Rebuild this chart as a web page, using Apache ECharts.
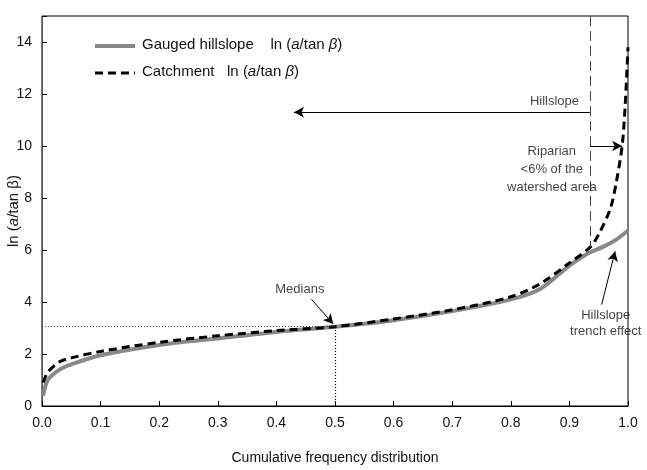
<!doctype html>
<html>
<head>
<meta charset="utf-8">
<title>ln(a/tan b)</title>
<script src="https://cdn.jsdelivr.net/npm/echarts@6/dist/echarts.min.js"></script>
<style>html,body{margin:0;padding:0;background:#fff}</style>
</head>
<body>
<div id="main" style="width:647px;height:470px"></div>
<script>
// cumulative frequency vs ln(a/tan b)
var gaugedX = [0.002, 0.01, 0.03, 0.05, 0.1, 0.2, 0.3, 0.4, 0.5, 0.6, 0.7, 0.8, 0.85, 0.9, 0.93, 0.96, 0.98, 1.0];
var gaugedY = [0.4, 1.0, 1.4, 1.6, 1.95, 2.35, 2.6, 2.85, 3.05, 3.3, 3.65, 4.1, 4.5, 5.4, 5.85, 6.15, 6.4, 6.75];
var catchX = [0.002, 0.01, 0.03, 0.05, 0.1, 0.2, 0.3, 0.4, 0.5, 0.6, 0.7, 0.8, 0.85, 0.9, 0.935, 0.95, 0.97, 0.98, 0.99, 0.995, 1.0];
var catchY = [0.9, 1.3, 1.7, 1.85, 2.1, 2.45, 2.7, 2.9, 3.05, 3.35, 3.7, 4.2, 4.7, 5.5, 6.1, 6.6, 7.6, 8.6, 10.0, 11.5, 13.8];
var medianX = 0.5, medianY = 3.05, riparianX = 0.935;

function pairs(xs, ys) { return xs.map(function (x, i) { return [x, ys[i]]; }); }
var font = 'Arial, "Liberation Sans", sans-serif';
var rich = { i: { fontStyle: 'italic', fontSize: 15, fontFamily: font, color: '#111' } };

var chart = echarts.init(document.getElementById('main'));
function seg(a, b, style, sym) {
  return [{ coord: a, symbol: sym ? sym[0] : 'none', lineStyle: style }, { coord: b, symbol: sym ? sym[1] : 'none' }];
}
var thin = { color: '#000', width: 1, type: 'solid' };
chart.setOption({
  animation: false,
  textStyle: { fontFamily: font },
  grid: { left: 42, right: 19, top: 16, bottom: 64, containLabel: false, outerBoundsMode: 'none' },
  xAxis: {
    type: 'value', min: 0, max: 1, interval: 0.1,
    name: 'Cumulative frequency distribution', nameLocation: 'middle', nameGap: 45,
    nameTextStyle: { fontSize: 14, color: '#111' },
    axisLine: { show: true, lineStyle: { color: '#000' } },
    axisTick: { inside: true, length: 5, lineStyle: { color: '#000' } },
    axisLabel: { fontSize: 14, color: '#111', margin: 10, formatter: function (v) { return v.toFixed(1); } },
    splitLine: { show: false }
  },
  yAxis: {
    type: 'value', min: 0, max: 15, interval: 2,
    name: '',
    axisLine: { show: true, lineStyle: { color: '#555' } },
    axisTick: { inside: true, length: 5, lineStyle: { color: '#000' } },
    axisLabel: { fontSize: 14, color: '#111', margin: 10, formatter: function (v) { return v <= 14 ? v : ''; } },
    splitLine: { show: false }
  },
  graphic: [
    { type: 'rect', shape: { x: 42, y: 16, width: 586, height: 390 }, style: { fill: 'none', stroke: '#000', lineWidth: 1 }, silent: true },
    { type: 'text', x: 14, y: 211, rotation: Math.PI / 2, style: { rich: rich, text: 'ln ({i|a}/tan β)', fontSize: 15, fontFamily: font, fill: '#111', align: 'center', verticalAlign: 'middle' } },
    { type: 'line', shape: { x1: 95, y1: 46, x2: 135, y2: 46 }, style: { stroke: '#888', lineWidth: 4 } },
    { type: 'text', left: 142, top: 37, style: { rich: rich, text: 'Gauged hillslope    ln ({i|a}/tan {i|β})', fontSize: 15, fontFamily: font, fill: '#111' } },
    { type: 'line', shape: { x1: 95, y1: 73, x2: 135, y2: 73 }, style: { stroke: '#000', lineWidth: 3, lineDash: [8, 5] } },
    { type: 'text', left: 142, top: 64, style: { rich: rich, text: 'Catchment   ln ({i|a}/tan {i|β})', fontSize: 15, fontFamily: font, fill: '#111' } }
  ],
  series: [
    {
      type: 'line', data: [], markLine: {
        symbol: 'none', silent: true, label: { show: false }, animation: false,
        symbolSize: [8, 10],
        data: [
          seg([riparianX, 15], [riparianX, 6.1], { color: '#444', width: 1, type: [10, 5] }),
          seg([riparianX, 11.3], [0.43, 11.3], thin, ['none', 'arrow']),
          seg([riparianX, 10.0], [0.99, 10.0], thin, ['none', 'arrow']),
          seg([0, medianY], [medianX, medianY], { color: '#444', width: 1, type: [1, 2] }),
          seg([medianX, 0], [medianX, medianY], { color: '#000', width: 1.2, type: [1, 2] }),
          seg([0.46, 4.1], [0.497, 3.15], thin, ['none', 'arrow']),
          seg([0.955, 3.9], [0.978, 5.95], thin, ['none', 'arrow'])
        ]
      }
    },
    { name: 'Gauged', type: 'line', data: pairs(gaugedX, gaugedY), smooth: 0.3, showSymbol: false, lineStyle: { color: '#888', width: 4 }, z: 3 },
    { name: 'Catchment', type: 'line', data: pairs(catchX, catchY), smooth: 0.3, showSymbol: false, lineStyle: { color: '#000', width: 3, type: [8, 5] }, z: 4 },
    {
      type: 'scatter', symbolSize: 0, silent: true, z: 5,
      data: [
        { value: [0.925, 11.7], label: { formatter: 'Hillslope', position: 'left' } },
        { value: [0.87, 9.8], label: { formatter: 'Riparian', position: 'inside' } },
        { value: [0.87, 9.1], label: { formatter: '<6% of the', position: 'inside' } },
        { value: [0.87, 8.4], label: { formatter: 'watershed area', position: 'inside' } },
        { value: [0.44, 4.5], label: { formatter: 'Medians', position: 'inside' } },
        { value: [0.962, 3.5], label: { formatter: 'Hillslope', position: 'inside' } },
        { value: [0.962, 2.85], label: { formatter: 'trench effect', position: 'inside' } }
      ],
      label: { show: true, fontSize: 13, color: '#111', fontFamily: font }
    }
  ]
});
</script>
</body>
</html>
